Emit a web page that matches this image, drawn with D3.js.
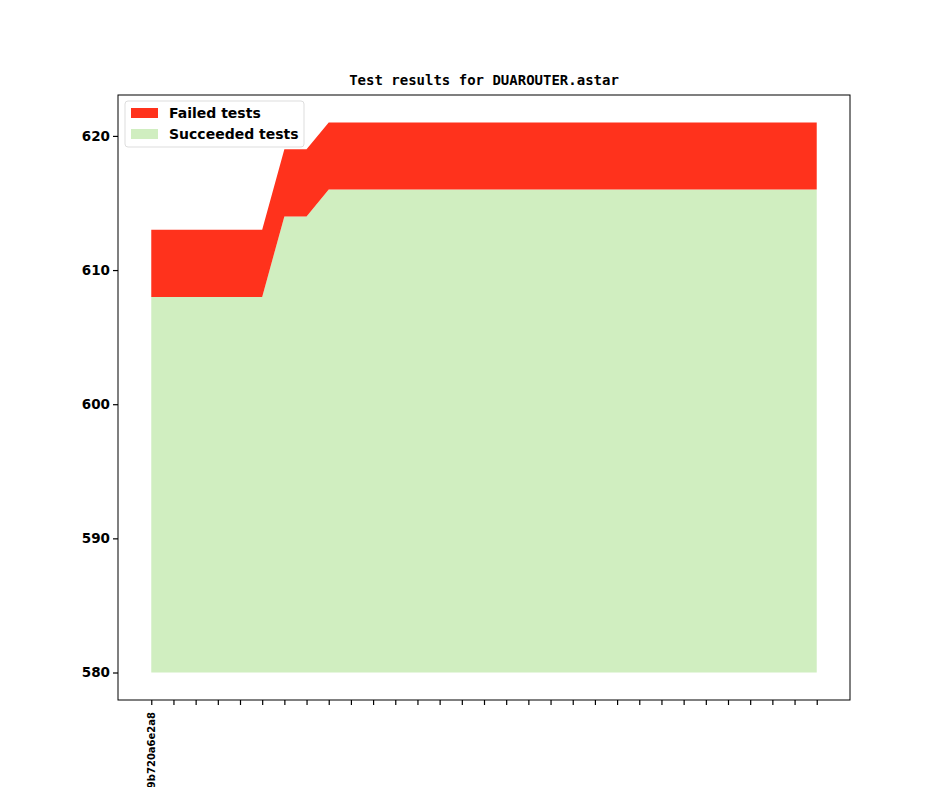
<!DOCTYPE html>
<html lang="en">
    <head>
        <title>Test results for DUAROUTER.astar</title>
        <script src="https://d3js.org/d3.v7.min.js"></script>
        <style>
            body { margin: 0; background: #fff; }
            text { font-family: 'DejaVu Sans', sans-serif; font-weight: bold; }
        </style>
    </head>
    <body>
    <div id="mainDiv"></div>

        <script type="text/javascript">
            // one entry per commit, only the first one carries a label
            const commits = ['9b720a6e2a8', '', '', '', '', '', '', '', '', '', '',
                '', '', '', '', '', '', '', '', '', '', '', '', '', '', '', '', '', '', '', '']
            const succeeded = [608, 608, 608, 608, 608, 608, 614, 614, 616, 616, 616,
                616, 616, 616, 616, 616, 616, 616, 616, 616, 616, 616, 616, 616, 616,
                616, 616, 616, 616, 616, 616]
            const failed = [5, 5, 5, 5, 5, 5, 5, 5, 5, 5, 5, 5, 5, 5, 5, 5, 5, 5, 5,
                5, 5, 5, 5, 5, 5, 5, 5, 5, 5, 5, 5]
            const baseline = 580
            const yTicks = [580, 590, 600, 610, 620]

            const width = 944
            const height = 787

            const margins = {
                top: 95,
                bottom: 87,
                left: 118,
                right: 94
            }

            const bounded = {
                width: width - margins.left - margins.right,
                height: height - margins.top - margins.bottom
            }

            const svg = d3.select('#mainDiv').append('svg')
                .attr('width', width)
                .attr('height', height)

            const group = svg.append('g')
                .attr('transform', `translate(${margins.left}, ${margins.top})`)

            const dataset = commits.map((c, i) => ({
                i: i,
                label: c,
                ok: succeeded[i],
                total: succeeded[i] + failed[i]
            }))

            // matplotlib style 5% padding around the data
            const xScale = d3.scaleLinear()
                .domain([-1.5, dataset.length - 1 + 1.5])
                .range([0, bounded.width])

            const yMax = d3.max(dataset, d => d.total)
            const pad = (yMax - baseline) * 0.05
            const yScale = d3.scaleLinear()
                .domain([baseline - pad, yMax + pad])
                .range([bounded.height, 0])

            const okArea = d3.area()
                .x(d => xScale(d.i))
                .y0(yScale(baseline))
                .y1(d => yScale(d.ok))

            const failArea = d3.area()
                .x(d => xScale(d.i))
                .y0(d => yScale(d.ok))
                .y1(d => yScale(d.total))

            group.append('path')
                .datum(dataset)
                .attr('d', okArea)
                .style('fill', '#d0eec0')

            group.append('path')
                .datum(dataset)
                .attr('d', failArea)
                .style('fill', '#ff321c')

            // axes
            const xAxis = d3.axisBottom(xScale)
                .tickValues(dataset.map(d => d.i))
                .tickFormat(i => commits[i])
                .tickSize(5)
            const yAxis = d3.axisLeft(yScale)
                .tickValues(yTicks)
                .tickSize(5)

            const gx = group.append('g')
                .attr('transform', `translate(0, ${bounded.height})`)
                .call(xAxis)
            gx.select('.domain').remove()
            gx.selectAll('.tick line').attr('stroke', '#000').attr('stroke-width', 1.2)
            gx.selectAll('.tick text')
                .attr('transform', 'rotate(-90)')
                .attr('text-anchor', 'end')
                .attr('x', -12)
                .attr('y', 0)
                .attr('dy', '0.35em')
                .style('font-size', '10px')
                .style('fill', '#000')

            const gy = group.append('g').call(yAxis)
            gy.select('.domain').remove()
            gy.selectAll('.tick line').attr('stroke', '#000').attr('stroke-width', 1.2)
            gy.selectAll('.tick text')
                .attr('x', -8)
                .style('font-size', '13.5px')
                .style('fill', '#000')

            // frame
            group.append('rect')
                .attr('width', bounded.width)
                .attr('height', bounded.height)
                .style('fill', 'none')
                .style('stroke', '#000')
                .style('stroke-width', 1)

            // title
            svg.append('text')
                .attr('x', margins.left + bounded.width / 2)
                .attr('y', margins.top - 10)
                .attr('text-anchor', 'middle')
                .style('font-family', "'DejaVu Sans Mono', monospace")
                .style('font-size', '14px')
                .text('Test results for DUAROUTER.astar')

            // legend
            const legend = group.append('g').attr('transform', 'translate(7, 6)')
            legend.append('rect')
                .attr('width', 179)
                .attr('height', 46)
                .attr('rx', 3)
                .style('fill', '#fff')
                .style('fill-opacity', 0.8)
                .style('stroke', '#ddd')
            const entries = [
                { name: 'Failed tests', color: '#ff321c' },
                { name: 'Succeeded tests', color: '#d0eec0' }
            ]
            entries.forEach((e, k) => {
                legend.append('rect')
                    .attr('x', 6)
                    .attr('y', 7 + k * 21)
                    .attr('width', 27)
                    .attr('height', 10)
                    .style('fill', e.color)
                legend.append('text')
                    .attr('x', 44)
                    .attr('y', 12 + k * 21)
                    .attr('dy', '0.35em')
                    .style('font-size', '14px')
                    .text(e.name)
            })
        </script>
    </body>
</html>
